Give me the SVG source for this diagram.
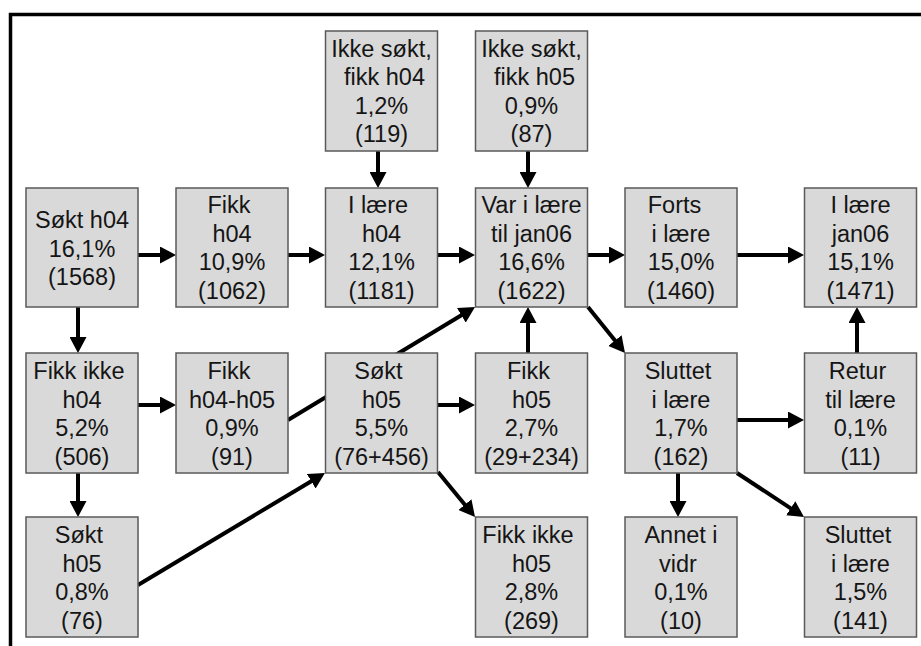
<svg xmlns="http://www.w3.org/2000/svg" width="921" height="646" viewBox="0 0 921 646">
<style>
.box{fill:#d9d9d9;stroke:#5a5a5a;stroke-width:1.5}
.t{font-family:"Liberation Sans",Arial,sans-serif;font-size:23.5px;fill:#151515;text-anchor:middle}
.c{stroke:#000;stroke-width:4;fill:none;marker-end:url(#ah)}
.frame{stroke:#000;stroke-width:3.5;fill:none}
</style>
<defs>
<marker id="ah" markerUnits="userSpaceOnUse" markerWidth="17" markerHeight="17" refX="1" refY="8.5" orient="auto">
<path d="M0,0 L16,8.5 L0,17 Z" fill="#000"/>
</marker>
</defs>
<rect width="921" height="646" fill="#fff"/>
<path class="frame" d="M10.5,646 V14.5 H921"/>
<g id="connectors">
<line class="c" x1="138" y1="255" x2="161" y2="255"/>
<line class="c" x1="288" y1="255" x2="310" y2="255"/>
<line class="c" x1="438" y1="255" x2="460" y2="255"/>
<line class="c" x1="588" y1="255" x2="610" y2="255"/>
<line class="c" x1="737" y1="255" x2="789" y2="255"/>
<line class="c" x1="378" y1="151" x2="378" y2="173"/>
<line class="c" x1="528" y1="151" x2="528" y2="173"/>
<line class="c" x1="78" y1="307" x2="78" y2="338"/>
<line class="c" x1="78" y1="473" x2="78" y2="502"/>
<line class="c" x1="138" y1="405" x2="161" y2="405"/>
<line class="c" x1="438" y1="405" x2="460" y2="405"/>
<line class="c" x1="528" y1="353" x2="528" y2="322"/>
<line class="c" x1="737" y1="420" x2="789" y2="420"/>
<line class="c" x1="857" y1="353" x2="857" y2="322"/>
<line class="c" x1="678" y1="473" x2="678" y2="502"/>
<line class="c" x1="288" y1="420" x2="462.2" y2="314.8"/>
<line class="c" x1="138" y1="585" x2="312.1" y2="480.7"/>
<line class="c" x1="438" y1="472" x2="465.5" y2="505.4"/>
<line class="c" x1="588" y1="307" x2="615.6" y2="341.3"/>
<line class="c" x1="737" y1="473" x2="791.5" y2="508.8"/>
</g>
<g id="ikke_sokt_h04">
<rect class="box" x="325.5" y="31" width="112" height="120"/>
<text class="t"><tspan x="381.5" y="57">Ikke søkt,</tspan><tspan x="384.5" y="85">fikk h04</tspan><tspan x="381.5" y="114">1,2%</tspan><tspan x="381.5" y="142">(119)</tspan></text>
</g>
<g id="ikke_sokt_h05">
<rect class="box" x="475.5" y="31" width="112" height="120"/>
<text class="t"><tspan x="531.5" y="57">Ikke søkt,</tspan><tspan x="534.5" y="85">fikk h05</tspan><tspan x="531.5" y="114">0,9%</tspan><tspan x="531.5" y="142">(87)</tspan></text>
</g>
<g id="sokt_h04">
<rect class="box" x="26" y="188" width="112" height="119"/>
<text class="t"><tspan x="82" y="228">Søkt h04</tspan><tspan x="82" y="257">16,1%</tspan><tspan x="82" y="285">(1568)</tspan></text>
</g>
<g id="fikk_h04">
<rect class="box" x="176" y="188" width="112" height="119"/>
<text class="t"><tspan x="229" y="213">Fikk</tspan><tspan x="232" y="241.5">h04</tspan><tspan x="232" y="270">10,9%</tspan><tspan x="232" y="298.5">(1062)</tspan></text>
</g>
<g id="i_laere_h04">
<rect class="box" x="325.5" y="188" width="112" height="119"/>
<text class="t"><tspan x="378" y="213">I lære</tspan><tspan x="381.5" y="241.5">h04</tspan><tspan x="381.5" y="270">12,1%</tspan><tspan x="381.5" y="298.5">(1181)</tspan></text>
</g>
<g id="var_i_laere">
<rect class="box" x="475.5" y="188" width="112" height="119"/>
<text class="t"><tspan x="531.5" y="213">Var i lære</tspan><tspan x="531.5" y="241.5">til jan06</tspan><tspan x="531.5" y="270">16,6%</tspan><tspan x="531.5" y="298.5">(1622)</tspan></text>
</g>
<g id="forts">
<rect class="box" x="625" y="188" width="112" height="119"/>
<text class="t"><tspan x="674.5" y="213">Forts</tspan><tspan x="681" y="241.5">i lære</tspan><tspan x="681" y="270">15,0%</tspan><tspan x="681" y="298.5">(1460)</tspan></text>
</g>
<g id="i_laere_jan06">
<rect class="box" x="804.5" y="188" width="112" height="119"/>
<text class="t"><tspan x="860.5" y="213">I lære</tspan><tspan x="860.5" y="241.5">jan06</tspan><tspan x="860.5" y="270">15,1%</tspan><tspan x="860.5" y="298.5">(1471)</tspan></text>
</g>
<g id="fikk_ikke_h04">
<rect class="box" x="26" y="353" width="112" height="120"/>
<text class="t"><tspan x="79" y="379">Fikk ikke</tspan><tspan x="82" y="407.5">h04</tspan><tspan x="82" y="436">5,2%</tspan><tspan x="82" y="464.5">(506)</tspan></text>
</g>
<g id="fikk_h04_h05">
<rect class="box" x="176" y="353" width="112" height="120"/>
<text class="t"><tspan x="229" y="379">Fikk</tspan><tspan x="232" y="407.5">h04-h05</tspan><tspan x="232" y="436">0,9%</tspan><tspan x="232" y="464.5">(91)</tspan></text>
</g>
<g id="sokt_h05_mid">
<rect class="box" x="325.5" y="353" width="112" height="120"/>
<text class="t"><tspan x="378.5" y="379">Søkt</tspan><tspan x="381.5" y="407.5">h05</tspan><tspan x="381.5" y="436">5,5%</tspan><tspan x="381.5" y="464.5">(76+456)</tspan></text>
</g>
<g id="fikk_h05">
<rect class="box" x="475.5" y="353" width="112" height="120"/>
<text class="t"><tspan x="528.5" y="379">Fikk</tspan><tspan x="531.5" y="407.5">h05</tspan><tspan x="531.5" y="436">2,7%</tspan><tspan x="531.5" y="464.5">(29+234)</tspan></text>
</g>
<g id="sluttet">
<rect class="box" x="625" y="353" width="112" height="120"/>
<text class="t"><tspan x="678" y="379">Sluttet</tspan><tspan x="681" y="407.5">i lære</tspan><tspan x="681" y="436">1,7%</tspan><tspan x="681" y="464.5">(162)</tspan></text>
</g>
<g id="retur">
<rect class="box" x="804.5" y="353" width="112" height="120"/>
<text class="t"><tspan x="857.5" y="379">Retur</tspan><tspan x="860.5" y="407.5">til lære</tspan><tspan x="860.5" y="436">0,1%</tspan><tspan x="860.5" y="464.5">(11)</tspan></text>
</g>
<g id="sokt_h05_bottom">
<rect class="box" x="26" y="517" width="112" height="120"/>
<text class="t"><tspan x="79" y="543">Søkt</tspan><tspan x="82" y="571.5">h05</tspan><tspan x="82" y="600">0,8%</tspan><tspan x="82" y="628.5">(76)</tspan></text>
</g>
<g id="fikk_ikke_h05">
<rect class="box" x="475.5" y="517" width="112" height="120"/>
<text class="t"><tspan x="528" y="543">Fikk ikke</tspan><tspan x="531.5" y="571.5">h05</tspan><tspan x="531.5" y="600">2,8%</tspan><tspan x="531.5" y="628.5">(269)</tspan></text>
</g>
<g id="annet">
<rect class="box" x="625" y="517" width="112" height="120"/>
<text class="t"><tspan x="681" y="543">Annet i</tspan><tspan x="678" y="571.5">vidr</tspan><tspan x="681" y="600">0,1%</tspan><tspan x="681" y="628.5">(10)</tspan></text>
</g>
<g id="sluttet_2">
<rect class="box" x="804.5" y="517" width="112" height="120"/>
<text class="t"><tspan x="858" y="543">Sluttet</tspan><tspan x="860.5" y="571.5">i lære</tspan><tspan x="860.5" y="600">1,5%</tspan><tspan x="860.5" y="628.5">(141)</tspan></text>
</g>
</svg>
